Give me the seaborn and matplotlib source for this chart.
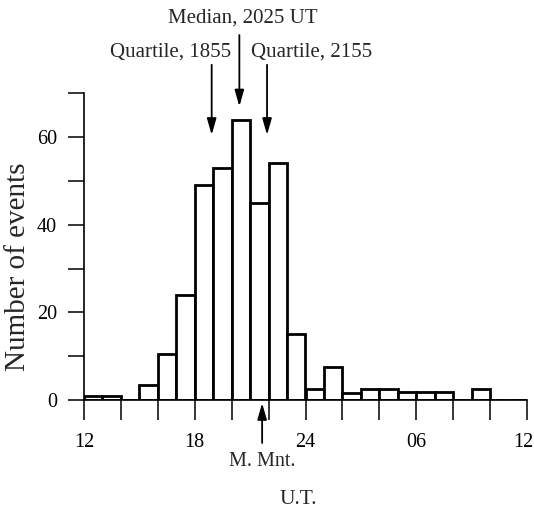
import numpy as np
import pandas as pd
import matplotlib
matplotlib.use("Agg")
import matplotlib.pyplot as plt
import matplotlib.transforms as mtransforms
import seaborn as sns

# Hourly event counts, one bin per hour starting at 12 UT (hours past 24 wrap to next day)
hour_start = [12, 13, 14, 15, 16, 17, 18, 19, 20, 21, 22, 23,
              24, 25, 26, 27, 28, 29, 30, 31, 32, 33, 34, 35]
event_counts = [1, 1, 0, 3.5, 10.5, 24, 49, 53, 64, 45, 54, 15,
                2.5, 7.5, 1.5, 2.5, 2.5, 1.75, 1.75, 1.75, 0, 2.5, 0, 0]

tick_positions = [12, 18, 24, 30, 36]
tick_labels = ["12", "18", "24", "06", "12"]
y_tick_values = [0, 20, 40, 60]

# Marked times in decimal hours
quartile_low = 18 + 55 / 60
median_time = 20 + 25 / 60
quartile_high = 21 + 55 / 60
magnetic_midnight = 21.65

sns.set_style("ticks")
plt.rcParams["font.family"] = ["Liberation Serif", "DejaVu Serif"]
plt.rcParams["axes.linewidth"] = 1.2

W, H = 534, 513
fig = plt.figure(figsize=(W / 100, H / 100), dpi=100)
ax = fig.add_axes([84 / W, 1 - 400 / H, (527 - 84) / W, (400 - 93.3) / H])

df = pd.DataFrame({"hour": [h + 0.5 for h in hour_start], "count": event_counts})
sns.histplot(data=df, x="hour", weights="count", binwidth=1, binrange=(12, 36),
             element="bars", fill=True, color="white", edgecolor="black",
             linewidth=2.0, alpha=1, ax=ax)

ax.set_xlim(12, 36)
ax.set_ylim(0, 70)
ax.set_xticks(np.arange(12, 37, 2))
ax.set_xticklabels([tick_labels[tick_positions.index(t)] if t in tick_positions else ""
                    for t in range(12, 37, 2)], fontsize=14.5)
ax.set_yticks(np.arange(0, 71, 10))
ax.set_yticklabels([str(v) if v in y_tick_values else "" for v in range(0, 71, 10)],
                   fontsize=14.5)
ax.tick_params(axis="x", direction="out", length=14.5, width=1.1, pad=9, colors="black")
ax.tick_params(axis="y", direction="out", length=11.5, width=1.1, pad=8, colors="black")
ax.set_xlabel("")
ax.set_ylabel("")
sns.despine(ax=ax)
for s in ("left", "bottom"):
    ax.spines[s].set_color("black")

# Nudge the last hour label inward so it stays inside the figure
last_label = ax.get_xticklabels()[-1]
last_label.set_transform(last_label.get_transform()
                         + mtransforms.ScaledTranslation(-4 / 100, 0, fig.dpi_scale_trans))


def fig_xy(px, py):
    return px / W, 1 - py / H


arrow_kw = dict(arrowstyle="-|>,head_length=0.7,head_width=0.2", color="black",
                lw=1.3, shrinkA=0, shrinkB=0, mutation_scale=14)

# Quartile and median arrows above the histogram
for t, tip, tail in [(quartile_low, 60.5, 76.5), (median_time, 67, 83.3),
                     (quartile_high, 60.5, 76.5)]:
    ax.annotate("", xy=(t, tip), xytext=(t, tail), xycoords="data",
                textcoords="data", arrowprops=arrow_kw, annotation_clip=False)

# Magnetic midnight arrow below the axis
ax.annotate("", xy=(magnetic_midnight, -0.7), xytext=(magnetic_midnight, -9.8),
            xycoords="data", textcoords="data", arrowprops=arrow_kw,
            annotation_clip=False)

fig.text(*fig_xy(243, 18), "Median, 2025 UT", ha="center", va="center", fontsize=15)
fig.text(*fig_xy(231, 52), "Quartile, 1855", ha="right", va="center", fontsize=15)
fig.text(*fig_xy(251, 52), "Quartile, 2155", ha="left", va="center", fontsize=15)
fig.text(*fig_xy(262, 462), "M. Mnt.", ha="center", va="center", fontsize=14.5)
fig.text(*fig_xy(298, 500), "U.T.", ha="center", va="center", fontsize=15.5)
fig.text(*fig_xy(18, 267), "Number of events", ha="center", va="center",
         rotation=90, fontsize=21)

fig.savefig("out.png", dpi=100, facecolor="white")
